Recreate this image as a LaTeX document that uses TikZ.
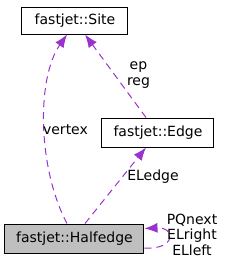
\documentclass[tikz,border=0pt]{standalone}
\usepackage{fontspec}
\setmainfont{DejaVu Sans}
\usetikzlibrary{arrows.meta}
\definecolor{edgepurple}{HTML}{9A32CD}
\definecolor{hfgray}{HTML}{BFBFBF}
\begin{document}
\begin{tikzpicture}[x=1pt,y=1pt,
  cls/.style={draw=black,line width=1pt,font=\fontsize{14}{16}\selectfont,inner sep=0pt,anchor=center},
  rel/.style={draw=edgepurple,line width=1pt,dash pattern=on 7pt off 5pt,-{Latex[length=13pt,width=10pt]}},
  lbl/.style={font=\fontsize{14}{15.5}\selectfont,align=center,inner sep=0pt}]
\useasboundingbox (0,0) rectangle (225,269);
\node[cls,minimum width=106pt,minimum height=27pt] (site) at (75,248.5) {fastjet::Site};
\node[cls,minimum width=112pt,minimum height=29pt] (edge) at (158,136.5) {fastjet::Edge};
\node[cls,fill=hfgray,minimum width=139pt,minimum height=29pt] (hf) at (74.5,30.5) {fastjet::Halfedge};
\coordinate (vs) at ([xshift=-7.5pt]hf.north);
\coordinate (ve) at ([xshift=-8pt]site.south);
\draw[rel] (vs) .. controls (38,100) and (36,190) .. (ve);
\draw[rel] ([xshift=-12pt]edge.north) -- ([xshift=10pt]site.south);
\draw[rel] ([xshift=10.5pt]hf.north) -- ([xshift=-12pt]edge.south);
\coordinate (ls) at ([yshift=-9.5pt]hf.east);
\coordinate (le) at ([yshift=10pt]hf.east);
\draw[rel] (ls) .. controls (176,19) and (176,42) .. (le);
\node[lbl] (lv) at (65.5,139) {vertex};
\node[lbl] (lep) at (138.5,194) {ep\\reg};
\node[lbl] (lel) at (153,92) {ELedge};
\node[lbl] (lpq) at (192,34.5) {PQnext\\ELright\\ELleft};
\end{tikzpicture}
\end{document}
